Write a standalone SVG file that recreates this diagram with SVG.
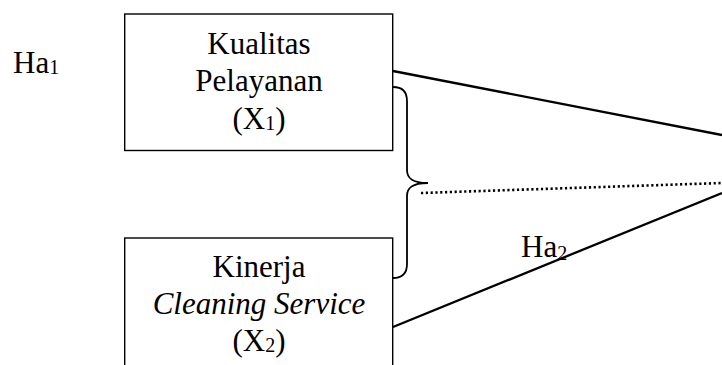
<svg xmlns="http://www.w3.org/2000/svg" width="722" height="365" viewBox="0 0 722 365">
  <style>
    .box { fill: #ffffff; stroke: #000000; stroke-width: 1.4; }
    .label { font-family: "Liberation Serif", "Times New Roman", serif; font-size: 31px; fill: #000000; }
    .sub { font-size: 20px; }
    .it { font-style: italic; }
    .line { fill: none; stroke: #000000; stroke-width: 2.3; }
    .brace { fill: none; stroke: #000000; stroke-width: 1.8; }
    .dotted { fill: none; stroke: #000000; stroke-width: 2.6; stroke-dasharray: 2.2 2.6; }
  </style>

  <rect width="722" height="365" fill="#ffffff"/>

  <g id="connectors">
    <line class="line" x1="393" y1="71" x2="722" y2="135"/>
    <line class="line" x1="393" y1="327" x2="722" y2="193"/>
    <path class="brace" d="M393,87 C402,87 407,92 407,101 L407,170 C407,178 412,183 428,183 C412,183 407,188 407,196 L407,264 C407,273 402,278 393,278"/>
    <line class="dotted" x1="421" y1="193" x2="722" y2="183"/>
  </g>

  <g id="ha1">
    <text class="label" x="13" y="73">Ha<tspan class="sub" dy="1">1</tspan></text>
  </g>

  <g id="ha2">
    <text class="label" x="521" y="257">Ha<tspan class="sub" dy="3">2</tspan></text>
  </g>

  <g id="x1">
    <rect class="box" x="124.7" y="14" width="268" height="136.5"/>
    <text class="label" text-anchor="middle" x="259" y="54">Kualitas</text>
    <text class="label" text-anchor="middle" x="259" y="91">Pelayanan</text>
    <text class="label" text-anchor="middle" x="259" y="129">(X<tspan class="sub" dy="1">1</tspan><tspan dy="-1">)</tspan></text>
  </g>

  <g id="x2">
    <rect class="box" x="124.7" y="238" width="268" height="160"/>
    <text class="label" text-anchor="middle" x="259" y="277">Kinerja</text>
    <text class="label it" text-anchor="middle" x="259" y="314">Cleaning Service</text>
    <text class="label" text-anchor="middle" x="259" y="351">(X<tspan class="sub" dy="1">2</tspan><tspan dy="-1">)</tspan></text>
  </g>
</svg>
